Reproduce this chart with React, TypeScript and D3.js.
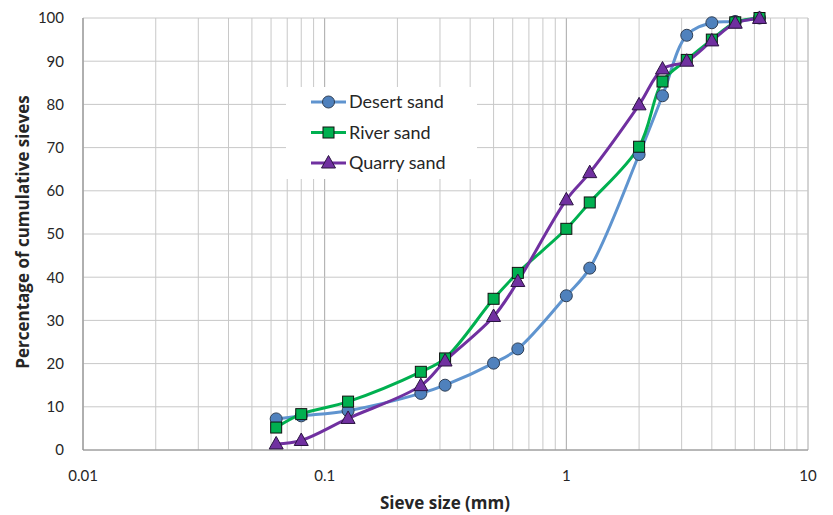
import * as d3 from "d3";

/* ------------------------------------------------------------------ */
/*  Data                                                               */
/* ------------------------------------------------------------------ */

const SIEVES = [0.063, 0.08, 0.125, 0.25, 0.315, 0.5, 0.63, 1, 1.25, 2, 2.5, 3.15, 4, 5, 6.3];

const DESERT = [7.2, 7.9, 9.1, 13.1, 15.0, 20.1, 23.4, 35.7, 42.1, 68.4, 82.0, 96.0, 98.9, 99.2, 100];
const RIVER = [5.2, 8.3, 11.2, 18.1, 21.2, 35.0, 41.0, 51.2, 57.3, 70.2, 85.3, 90.3, 95.0, 99.0, 100];
const QUARRY = [1.4, 2.2, 7.3, 14.9, 20.6, 30.9, 39.0, 57.9, 64.2, 79.9, 88.2, 90.0, 94.7, 98.8, 99.9];

const SERIES_NAMES = ["Desert sand", "River sand", "Quarry sand"];

const X_TICKS = [0.01, 0.1, 1, 10];
const X_TICK_LABELS = ["0.01", "0.1", "1", "10"];
const Y_TICKS = [0, 10, 20, 30, 40, 50, 60, 70, 80, 90, 100];

/* ------------------------------------------------------------------ */
/*  Theme                                                              */
/* ------------------------------------------------------------------ */

const FONT = "Lato, 'Open Sans', sans-serif";
const TITLE_FONT = "'Open Sans', Lato, sans-serif";
const GRID = "#c8c8c8";
const AXIS = "#8c8c8c";
const TEXT = "#262626";

const STYLES = [
  { line: "#5f94cf", fill: "#4f81bd", shape: "circle" },
  { line: "#00b050", fill: "#00b050", shape: "square" },
  { line: "#7030a0", fill: "#7030a0", shape: "triangle" },
];

const W = 833;
const H = 515;
const margin = { top: 18, right: 25, bottom: 65, left: 83 };
const iw = W - margin.left - margin.right;
const ih = H - margin.top - margin.bottom;

function Marker({ shape, fill, cx, cy }: { shape: string; fill: string; cx: number; cy: number }) {
  if (shape === "circle")
    return <circle cx={cx} cy={cy} r={6} fill={fill} stroke="#2f3f55" strokeWidth={1} />;
  if (shape === "square")
    return <rect x={cx - 5.5} y={cy - 5.5} width={11} height={11} fill={fill} stroke="#111" strokeWidth={1} />;
  return (
    <path
      d={`M${cx},${cy - 7.5}L${cx + 7},${cy + 5}L${cx - 7},${cy + 5}Z`}
      fill={fill}
      stroke="#2a1440"
      strokeWidth={1}
    />
  );
}

export default function App() {
  const x = d3.scaleLog().domain([0.01, 10]).range([0, iw]);
  const y = d3.scaleLinear().domain([0, 100]).range([ih, 0]);

  const minorTicks: number[] = [];
  [0.01, 0.1, 1].forEach((dec) => {
    for (let k = 2; k <= 9; k++) minorTicks.push(dec * k);
  });

  const line = d3
    .line<[number, number]>()
    .x((d) => x(d[0]))
    .y((d) => y(d[1]))
    .curve(d3.curveCatmullRom.alpha(0.5));

  const allSeries = [DESERT, RIVER, QUARRY].map((vals) =>
    SIEVES.map((s, i) => [s, vals[i]] as [number, number]),
  );

  const legend = { x: 286 - margin.left, y: 87 - margin.top, w: 191, h: 92 };

  return (
    <svg width={W} height={H} style={{ display: "block", position: "absolute", left: 0, top: 0 }}>
      <rect width={W} height={H} fill="#fff" />
      <g transform={`translate(${margin.left},${margin.top})`}>
        {/* grid */}
        {minorTicks.map((t) => (
          <line key={`m${t}`} x1={x(t)} x2={x(t)} y1={0} y2={ih} stroke={GRID} strokeWidth={1} />
        ))}
        {X_TICKS.map((t) => (
          <line key={`M${t}`} x1={x(t)} x2={x(t)} y1={0} y2={ih} stroke="#a8a8a8" strokeWidth={1} />
        ))}
        {Y_TICKS.map((t) => (
          <line key={`y${t}`} x1={0} x2={iw} y1={y(t)} y2={y(t)} stroke={GRID} strokeWidth={1} />
        ))}

        {/* axes */}
        <line x1={0} x2={iw} y1={ih} y2={ih} stroke={AXIS} strokeWidth={1} />
        <line x1={0} x2={0} y1={0} y2={ih} stroke={AXIS} strokeWidth={1} />

        {/* legend box */}
        <rect x={legend.x} y={legend.y} width={legend.w} height={legend.h} fill="#fff" />

        {/* tick labels */}
        {Y_TICKS.map((t) => (
          <text
            key={`yl${t}`}
            x={-19}
            y={y(t)}
            dy="0.36em"
            textAnchor="end"
            fontFamily={FONT}
            fontSize={15}
            fill={TEXT}
          >
            {t}
          </text>
        ))}
        {X_TICKS.map((t, i) => (
          <text
            key={`xl${t}`}
            x={x(t)}
            y={ih + 31}
            textAnchor="middle"
            fontFamily={FONT}
            fontSize={15}
            fill={TEXT}
          >
            {X_TICK_LABELS[i]}
          </text>
        ))}

        {/* series */}
        {allSeries.map((pts, si) => (
          <path
            key={`l${si}`}
            d={line(pts) ?? ""}
            fill="none"
            stroke={STYLES[si].line}
            strokeWidth={3}
            strokeLinejoin="round"
          />
        ))}
        {allSeries.map((pts, si) =>
          pts.map((p, i) => (
            <Marker
              key={`p${si}-${i}`}
              shape={STYLES[si].shape}
              fill={STYLES[si].fill}
              cx={x(p[0])}
              cy={y(p[1])}
            />
          )),
        )}

        {/* legend entries */}
        {SERIES_NAMES.map((name, i) => {
          const ly = legend.y + 15 + i * 30.5;
          const lx = legend.x + 25;
          return (
            <g key={name}>
              <line x1={lx} x2={lx + 35} y1={ly} y2={ly} stroke={STYLES[i].line} strokeWidth={3} />
              <Marker shape={STYLES[i].shape} fill={STYLES[i].fill} cx={lx + 17.5} cy={ly} />
              <text x={lx + 38} y={ly} dy="0.36em" fontFamily={FONT} fontSize={18} fill={TEXT}>
                {name}
              </text>
            </g>
          );
        })}
      </g>

      {/* axis titles */}
      <text
        x={445}
        y={509}
        textAnchor="middle"
        fontFamily={TITLE_FONT}
        fontSize={17}
        fontWeight="bold"
        fill={TEXT}
      >
        Sieve size (mm)
      </text>
      <text
        transform={`translate(29,232) rotate(-90)`}
        textAnchor="middle"
        fontFamily={TITLE_FONT}
        fontSize={17}
        fontWeight="bold"
        fill={TEXT}
      >
        Percentage of cumulative sieves
      </text>
    </svg>
  );
}
